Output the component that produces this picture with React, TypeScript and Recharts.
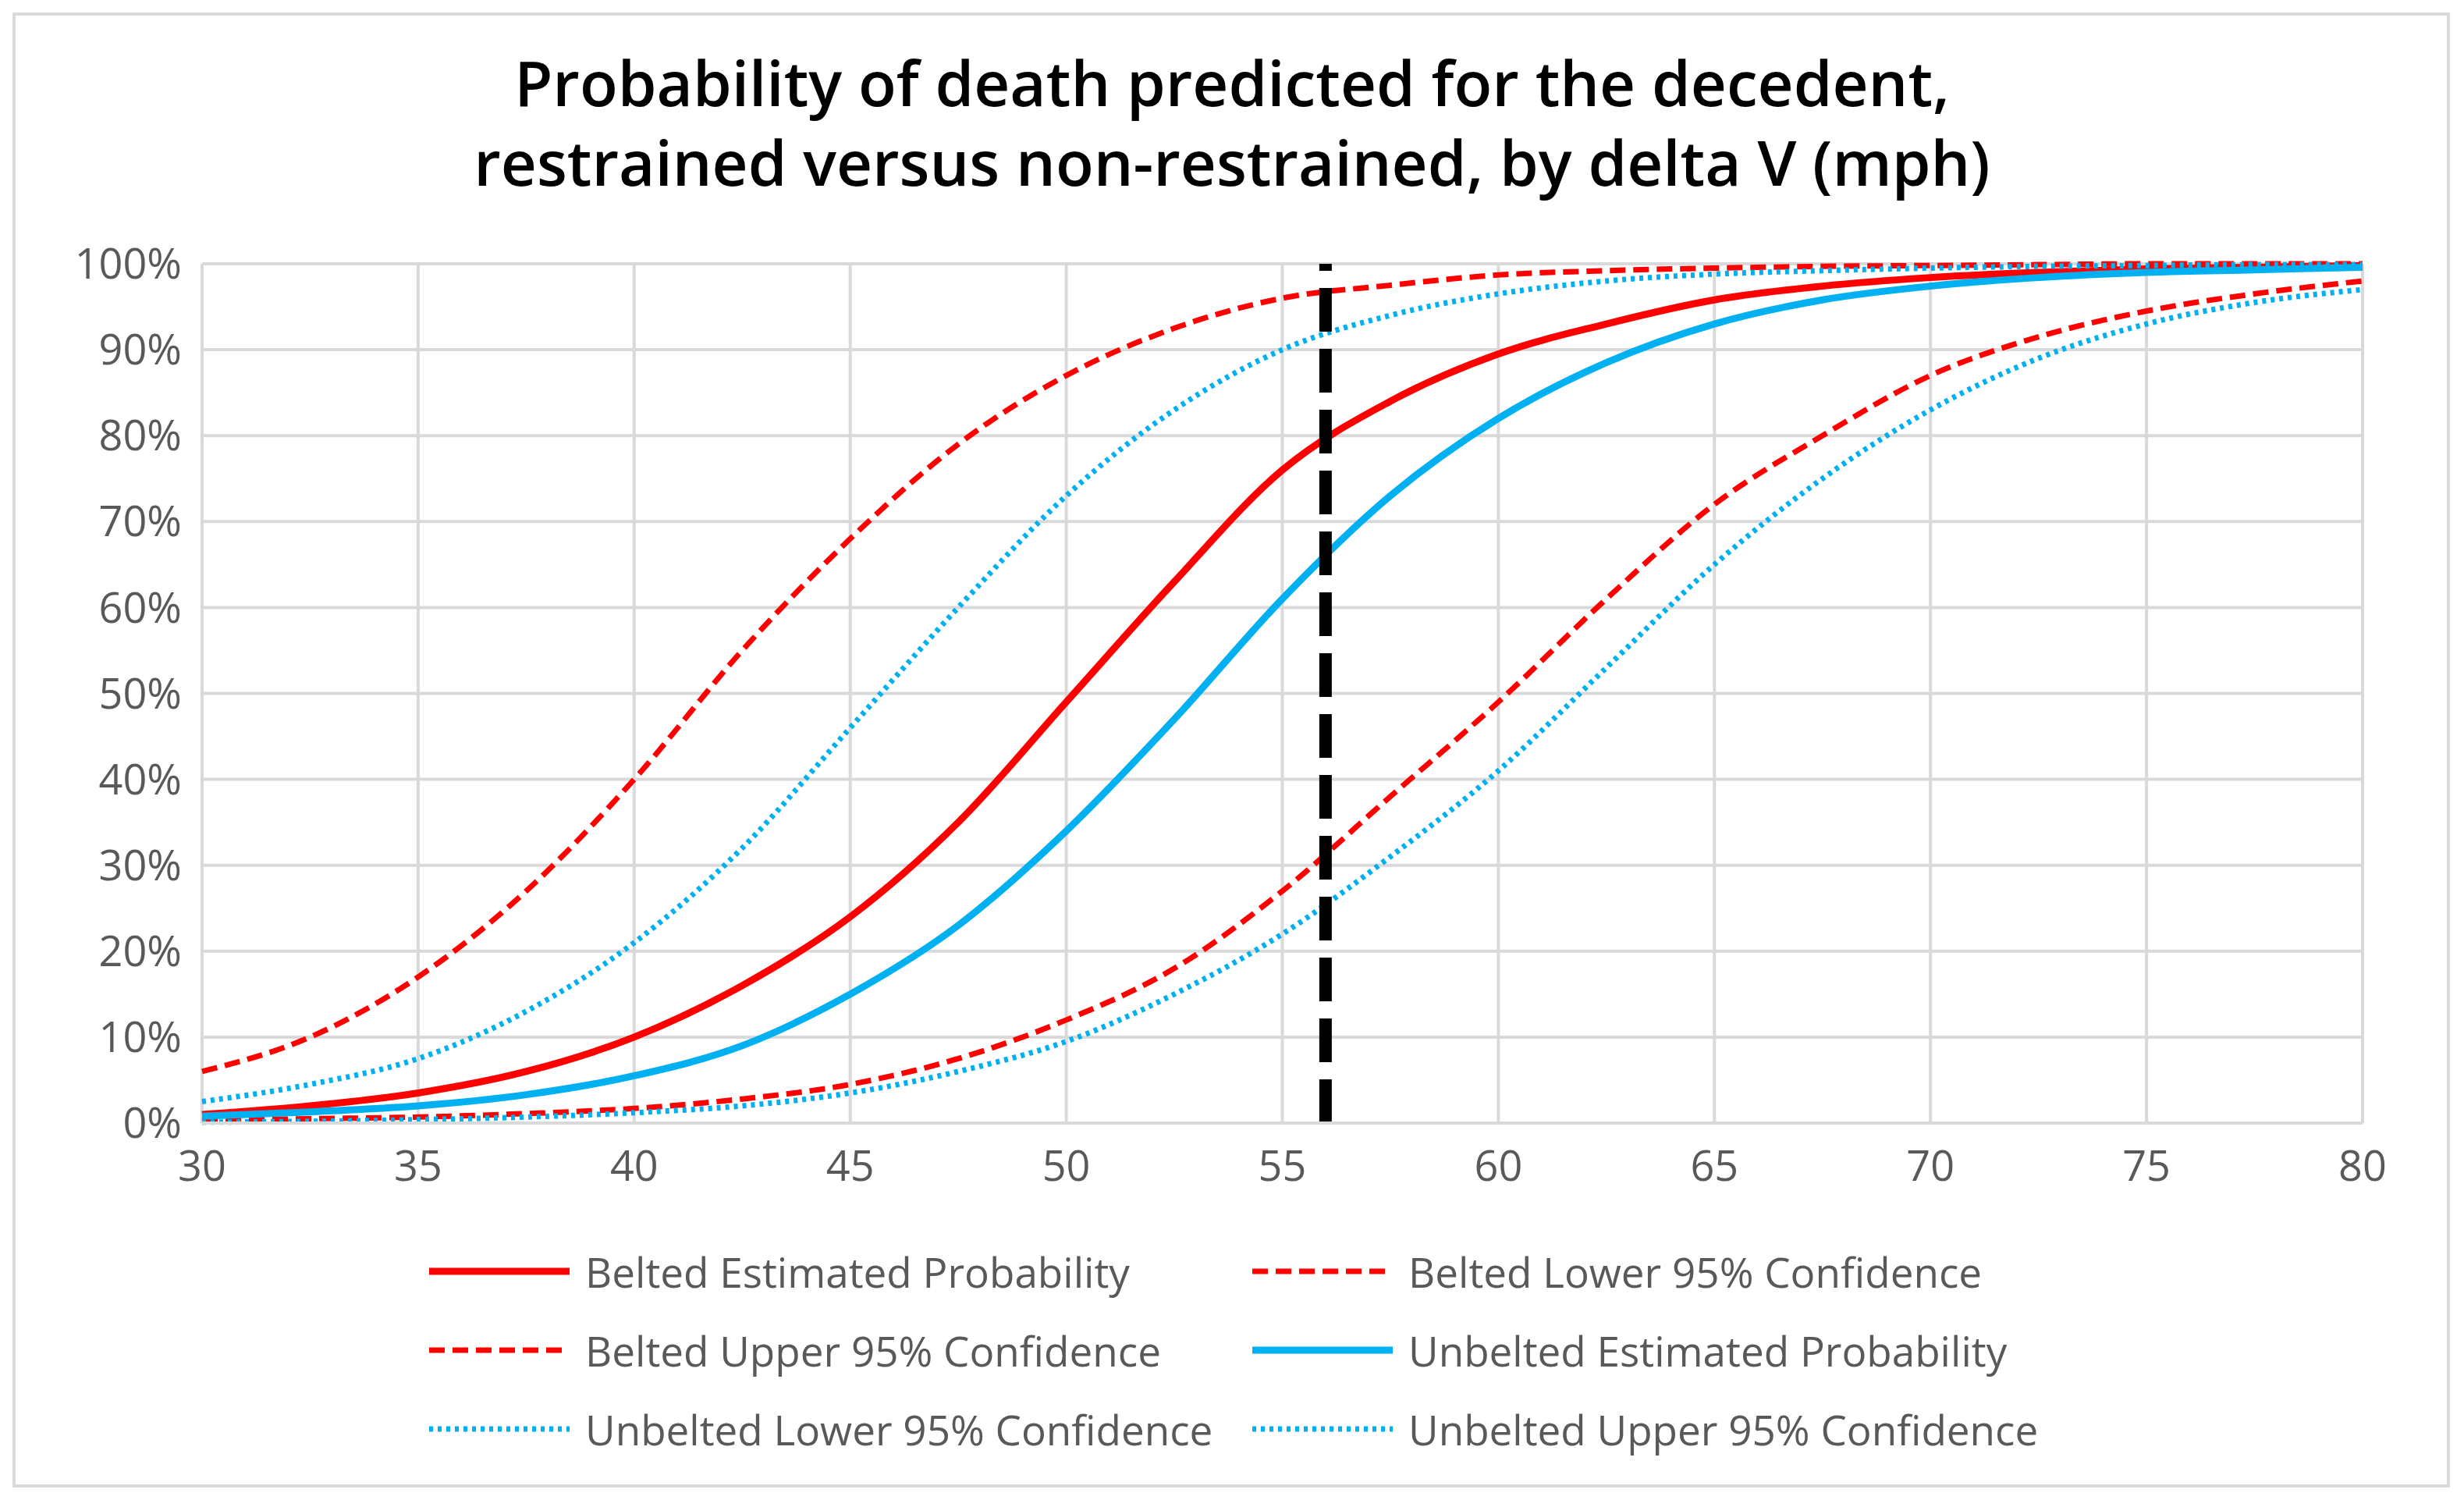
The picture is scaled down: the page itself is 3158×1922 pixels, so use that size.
import { CartesianGrid, Line, LineChart, ReferenceLine, XAxis, YAxis } from "recharts";

const deltaV = [30, 32.5, 35, 37.5, 40, 42.5, 45, 47.5, 50, 52.5, 55, 57.5, 60, 62.5, 65, 67.5, 70, 72.5, 75, 77.5, 80];

const beltedEst = [1, 2, 3.5, 6, 10, 16, 24, 35, 49, 63, 76, 84, 89.5, 93, 95.8, 97.4, 98.4, 99, 99.4, 99.6, 99.8];
const beltedLower = [0.3, 0.5, 0.7, 1.1, 1.7, 2.8, 4.5, 7.5, 12, 18, 27, 38, 49, 61, 72, 80, 87, 91.5, 94.5, 96.5, 98];
const beltedUpper = [6, 10, 17, 27, 40, 55, 68, 79, 87, 92.5, 96, 97.5, 98.7, 99.2, 99.5, 99.7, 99.8, 99.9, 100, 100, 100];
const unbeltedEst = [0.8, 1.3, 2, 3.3, 5.5, 9, 15, 23, 34, 47, 61, 73, 82, 88.5, 93, 95.8, 97.4, 98.4, 99, 99.3, 99.6];
const unbeltedLower = [0.1, 0.2, 0.4, 0.7, 1.2, 2, 3.5, 6, 9.5, 15, 22, 31, 41, 53, 65, 75, 83, 89, 93, 95.5, 97];
const unbeltedUpper = [2.5, 4.5, 7.5, 13, 21, 32, 46, 60, 73, 83, 90, 94, 96.5, 98, 98.8, 99.2, 99.5, 99.7, 99.8, 99.9, 99.9];

const xTicks = [30, 35, 40, 45, 50, 55, 60, 65, 70, 75, 80];
const yTicks = [0, 10, 20, 30, 40, 50, 60, 70, 80, 90, 100];

const rows = deltaV.map((x, i) => ({
  x,
  beltedEst: beltedEst[i],
  beltedLower: beltedLower[i],
  beltedUpper: beltedUpper[i],
  unbeltedEst: unbeltedEst[i],
  unbeltedLower: unbeltedLower[i],
  unbeltedUpper: unbeltedUpper[i],
}));

const RED = "#ff0000";
const BLUE = "#00b0f0";
const FONT = "'Open Sans', sans-serif";

const series = [
  { key: "beltedEst", name: "Belted Estimated Probability", color: RED, width: 9, dash: undefined },
  { key: "beltedLower", name: "Belted Lower 95% Confidence", color: RED, width: 7, dash: "20 10" },
  { key: "beltedUpper", name: "Belted Upper 95% Confidence", color: RED, width: 7, dash: "20 10" },
  { key: "unbeltedEst", name: "Unbelted Estimated Probability", color: BLUE, width: 9, dash: undefined },
  { key: "unbeltedLower", name: "Unbelted Lower 95% Confidence", color: BLUE, width: 7, dash: "5 6" },
  { key: "unbeltedUpper", name: "Unbelted Upper 95% Confidence", color: BLUE, width: 7, dash: "5 6" },
];

export default function App() {
  return (
    <div style={{ position: "fixed", top: 0, left: 0, width: 3158, height: 1922, background: "#fff", fontFamily: FONT }}>
      <div
        style={{
          position: "absolute", left: 16, top: 16, width: 3124, height: 1890,
          border: "4px solid #d9d9d9", boxSizing: "border-box",
        }}
      />
      <div
        style={{
          position: "absolute", left: 0, top: 54, width: 3158, textAlign: "center",
          fontSize: 80, lineHeight: "102px", color: "#000", fontWeight: 600,
        }}
      >
        Probability of death predicted for the decedent,
        <br />
        restrained versus non-restrained, by delta V (mph)
      </div>
      <div style={{ position: "absolute", left: 0, top: 0 }}>
        <LineChart width={3158} height={1560} data={rows} margin={{ top: 338, right: 130, left: 0, bottom: 11 }}>
          <CartesianGrid stroke="#d9d9d9" strokeWidth={4} />
          <XAxis
            dataKey="x"
            type="number"
            domain={[30, 80]}
            ticks={xTicks}
            height={110}
            tickLine={false}
            axisLine={{ stroke: "#d9d9d9", strokeWidth: 4 }}
            tick={{ fontSize: 54, fill: "#595959", fontFamily: FONT }}
            tickMargin={30}
          />
          <YAxis
            domain={[0, 100]}
            ticks={yTicks}
            width={259}
            tickLine={false}
            axisLine={false}
            tickFormatter={(v) => `${v}%`}
            tick={{ fontSize: 54, fill: "#595959", fontFamily: FONT }}
            tickMargin={20}
          />
          {series.map((s) => (
            <Line
              key={s.key}
              dataKey={s.key}
              name={s.name}
              type="monotone"
              stroke={s.color}
              strokeWidth={s.width}
              strokeDasharray={s.dash}
              dot={false}
              isAnimationActive={false}
            />
          ))}
          <ReferenceLine x={56} stroke="#000" strokeWidth={16} strokeDasharray="56 22" />
        </LineChart>
      </div>
      {series.map((s, i) => {
        const col = i % 2;
        const row = Math.floor(i / 2);
        const left = col === 0 ? 550 : 1605;
        const top = 1629 + row * 101;
        return (
          <div key={s.key} style={{ position: "absolute", left, top: top - 35, height: 70, display: "flex", alignItems: "center" }}>
            <svg width={180} height={20} style={{ marginRight: 20 }}>
              <line x1={0} y1={10} x2={180} y2={10} stroke={s.color} strokeWidth={s.width} strokeDasharray={s.dash} />
            </svg>
            <span style={{ fontSize: 53, color: "#595959", whiteSpace: "nowrap" }}>{s.name}</span>
          </div>
        );
      })}
    </div>
  );
}
